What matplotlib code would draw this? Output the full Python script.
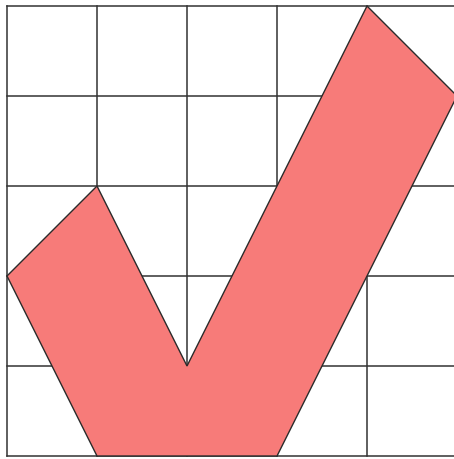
import matplotlib
matplotlib.use("Agg")
import matplotlib.pyplot as plt
from matplotlib.patches import Polygon

# grid lines (cell units)
grid_x = [0, 1, 2, 3, 4, 5]
grid_y = [0, 1, 2, 3, 4, 5]

# check mark outline, in cell units (y up)
check_x = [0, 1, 2, 4, 5, 3, 1]
check_y = [2, 3, 1, 5, 4, 0, 0]

fig = plt.figure(figsize=(4.54, 4.60), dpi=100)
ax = fig.add_axes([0, 0, 1, 1])
ax.set_xlim(-7 / 90, 447 / 90)
ax.set_ylim(-3 / 90, 5 + 7 / 90)
ax.axis("off")

for gx in grid_x:
    ax.plot([gx, gx], [grid_y[0], grid_y[-1]], color="#333333", lw=1.1, zorder=1)
for gy in grid_y:
    ax.plot([grid_x[0], grid_x[-1]], [gy, gy], color="#333333", lw=1.1, zorder=1)

check = Polygon(list(zip(check_x, check_y)), closed=True,
                facecolor="#F77B79", edgecolor="#2b2b2b", lw=1.0, zorder=2)
ax.add_patch(check)

fig.savefig("out.png", dpi=100)
